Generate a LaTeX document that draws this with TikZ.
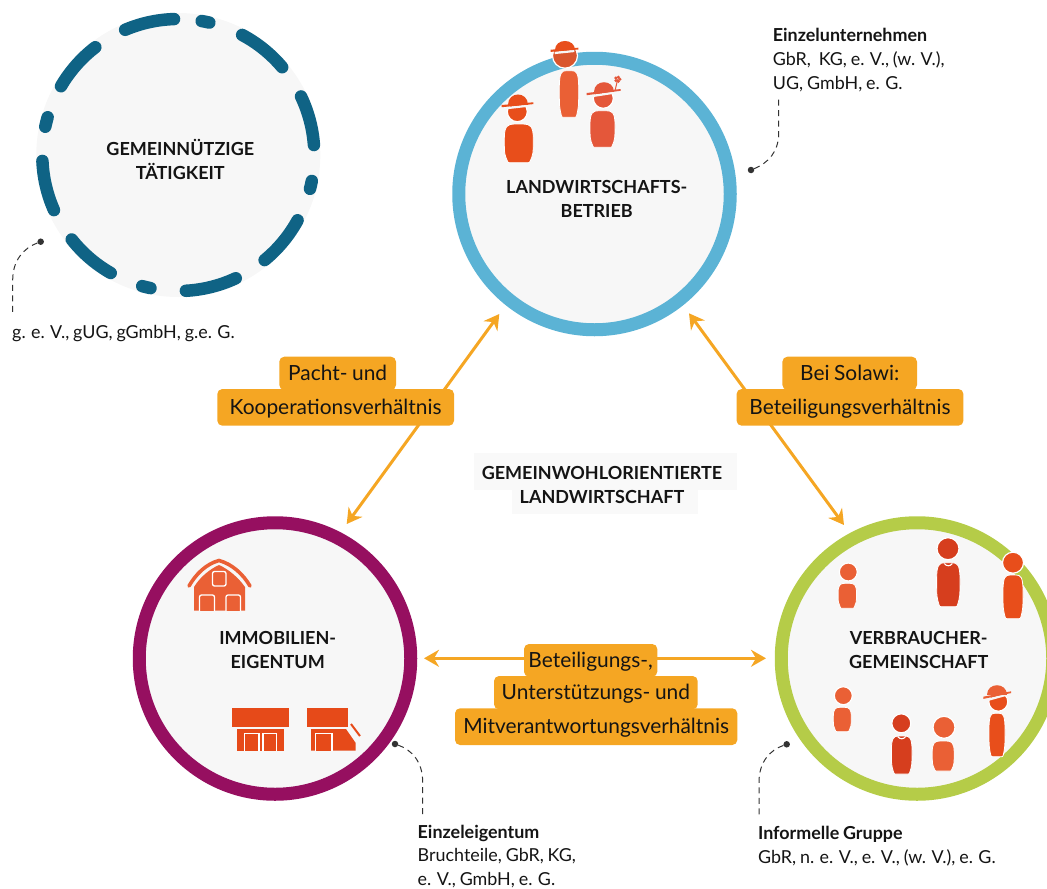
\documentclass[tikz,border=0pt]{standalone}
\usepackage{fontspec}
\setmainfont[WordSpace=0.85]{Lato}
\usetikzlibrary{arrows.meta}
\definecolor{orangeb}{HTML}{F5A623}
\definecolor{blue1}{HTML}{5BB3D5}
\definecolor{teal1}{HTML}{0F6385}
\definecolor{purple1}{HTML}{960F60}
\definecolor{green1}{HTML}{B5CC48}
\definecolor{disc}{HTML}{F7F7F7}
\definecolor{ink}{HTML}{141414}
\definecolor{dotc}{HTML}{333333}
\definecolor{oa}{HTML}{EA6035}
\definecolor{ob}{HTML}{D63E1E}
\definecolor{oc}{HTML}{E84E1B}
\definecolor{od}{HTML}{E4573A}
\definecolor{oe}{HTML}{D9562E}
\definecolor{of}{HTML}{E64A19}
\tikzset{
  ring/.style={circle,draw=#1,fill=disc,line width=13pt,minimum size=271.5pt,inner sep=0pt},
  gdisc/.style={circle,fill=disc,minimum size=284pt,inner sep=0pt},
  gbar/.style={draw=teal1,line width=12.5pt,line cap=round},
  title/.style={font=\fontsize{18}{24}\selectfont\bfseries,align=center,text=ink,inner sep=0pt},
  lab/.style={fill=orangeb,rounded corners=5pt,inner sep=0pt,text=ink,font=\fontsize{20.9}{24}\selectfont,text height=19pt,text depth=4.5pt},
  link/.style={draw=orangeb,line width=3pt,{Stealth[length=15pt,width=17pt,inset=5pt]}-{Stealth[length=15pt,width=17pt,inset=5pt]}},
  note/.style={font=\fontsize{17.9}{24}\selectfont,align=left,text=ink,inner sep=0pt,anchor=north west},
  dotn/.style={circle,fill=dotc,minimum size=6.5pt,inner sep=0pt},
  callout/.style={draw=dotc,line width=1pt,dash pattern=on 6pt off 4.5pt},
  bg/.style={fill=white!97.5!black,inner sep=0pt}
}
% person: cx, top, bot, half width, colour
\newcommand\persbody[5]{%
  \pgfmathsetmacro\hh{#3-#2}%
  \pgfmathsetmacro\xa{#1-#4}\pgfmathsetmacro\xb{#1+#4}%
  \pgfmathsetmacro\xc{#1-.78*#4}\pgfmathsetmacro\xd{#1+.78*#4}%
  \pgfmathsetmacro\xe{#1-.3*#4}\pgfmathsetmacro\xf{#1+.3*#4}%
  \pgfmathsetmacro\ya{#2+.38*\hh}\pgfmathsetmacro\yb{#3-.22*\hh}%
  \path[fill=#5,draw=white,line width=.8pt,line join=round]
    (\xc,#3-1.5) .. controls (\xa+.1,\yb) and (\xa,\yb) .. (\xa,\ya)
    .. controls (\xa,#2+2) and (\xc,#2) .. (\xe,#2)
    -- (\xf,#2) .. controls (\xd,#2) and (\xb,#2+2) .. (\xb,\ya)
    .. controls (\xb,\yb) and (\xb-.1,\yb) .. (\xd,#3-1.5)
    .. controls (\xd-.3,#3) and (\xd-1,#3) .. (\xd-2,#3)
    -- (\xc+2,#3) .. controls (\xc+1,#3) and (\xc+.3,#3) .. (\xc,#3-1.5) -- cycle;}
\newcommand\perhead[4]{\path[fill=#4,draw=white,line width=1.2pt] (#1,#2) circle[radius=#3];}
% hat: left x, left y, right x, right y, top y, colour
\newcommand\perhat[6]{%
  \pgfmathsetmacro\mx{(#1+#3)/2}\pgfmathsetmacro\my{(#2+#4)/2}%
  \path[draw=disc,line width=2.4pt] (#1+4,#2+2.2) -- (#3-4,#4+2.2);
  \path[fill=#6] (\mx-10,\my) .. controls (\mx-10,#5-3) and (\mx+10,#5-3) .. (\mx+10,\my) -- cycle;
  \path[fill=#6] (#1,#2-1) -- (#3,#4-1) -- (#3,#4+.8) -- (#1,#2+1.2) -- cycle;}
\newcommand\percollar[2]{\path[draw=white,line width=1.1pt] (#1-4,#2) .. controls (#1-2,#2+3) and (#1+2,#2+3) .. (#1+4,#2);}
\begin{document}
\begin{tikzpicture}[x=1pt,y=-1pt]
\useasboundingbox (0,0) rectangle (1047,889);
\clip (0,0) rectangle (1047,889);
% circles
\node[gdisc] (G) at (178.3,155) {};
\foreach \a/\b in {113/91.8,80.1/76.8,62/40.2,25.5/4.2,-11/-14.4,-28.7/-50.6,-65/-86.8,-101.8/-105.4,-119.8/-141.6,-156.1/-177.5,168/163.9,149.6/127.6}
  \draw[gbar] ([shift={(\a:136pt)}]G.center) arc[start angle=\a,end angle=\b,radius=136pt];
\node[ring=blue1] (L) at (594.5,194) {};
\node[ring=purple1] (I) at (275,658.5) {};
\node[ring=green1] (V) at (917,658.5) {};
% titles
\node[title] (tG) at (180.3,159) {GEMEINNÜTZIGE\\TÄTIGKEIT};
\node[title] (tL) at (596.7,199) {LANDWIRTSCHAFTS-\\BETRIEB};
\node[title] (tI) at (277.7,649.5) {IMMOBILIEN-\\EIGENTUM};
\node[title] (tV) at (918.7,649.5) {VERBRAUCHER-\\GEMEINSCHAFT};
% centre title
\node[bg,minimum width=263pt,minimum height=37pt] (b1) at (605.5,471.5) {};
\node[bg,minimum width=186pt,minimum height=24pt] (b2) at (605,501.5) {};
\node[title] (tC) at (602,484.5) {GEMEINWOHLORIENTIERTE\\LANDWIRTSCHAFT};
% arrow ends
\coordinate (a1) at (499.3,314);
\coordinate (a2) at (346.7,524);
\coordinate (a3) at (689,313.3);
\coordinate (a4) at (844,525);
\coordinate (a5) at (424,658.3);
\coordinate (a6) at (766,658.3);
\draw[link] (a1) -- (a2);
\draw[link] (a3) -- (a4);
\draw[link] (a5) -- (a6);
% labels
\node[lab,minimum width=236.7pt,minimum height=36.7pt] (k1b) at (335.65,407.35) {Kooperationsverhältnis};
\node[lab,minimum width=116.7pt,minimum height=33.3pt] (k1a) at (337.65,373.35) {Pacht- und};
\node[lab,minimum width=226.8pt,minimum height=36.7pt] (k2b) at (850,407.35) {Beteiligungsverhältnis};
\node[lab,minimum width=134.6pt,minimum height=33.3pt] (k2a) at (849.7,373.35) {Bei Solawi:};
\node[lab,minimum width=282.3pt,minimum height=36.7pt] (k3c) at (596.15,726.65) {Mitverantwortungsverhältnis};
\node[lab,minimum width=203.7pt,minimum height=33.3pt] (k3b) at (595.85,692.65) {Unterstützungs- und};
\node[lab,minimum width=133.3pt,minimum height=32.7pt] (k3a) at (590.65,660.35) {Beteiligungs-,};
% notes
\node[note] (nL) at (772.7,28) {\textbf{Einzelunternehmen}\\GbR,\ \ KG, e. V., (w. V.),\\UG, GmbH, e. G.};
\node[note] (nG) at (12,325) {g. e. V., gUG, gGmbH, g.e. G.};
\node[note,font=\fontsize{17.9}{23.5}\selectfont] (nI) at (417.5,824.5) {\textbf{Einzeleigentum}\\Bruchteile, GbR, KG,\\e. V., GmbH, e. G.};
\node[note] (nV) at (757.9,826) {\textbf{Informelle Gruppe}\\GbR, n. e. V., e. V., (w. V.), e. G.};
% callouts
\node[dotn] (dL) at (751,170) {};
\node[dotn] (dG) at (40.7,241.7) {};
\node[dotn] (dI) at (395,744) {};
\node[dotn] (dV) at (786.7,744.3) {};
\coordinate (eL) at (778.7,97.7);
\coordinate (eG) at (12.7,313.3);
\coordinate (eI) at (422.7,816.7);
\coordinate (eV) at (759,816.7);
\draw[callout] (dL) .. controls (768,163) and (778.7,152) .. (778.7,133) -- (eL);
\draw[callout] (dG) .. controls (24,248) and (12.7,260) .. (12.7,280) -- (eG);
\draw[callout] (dI) .. controls (412,750) and (422.7,762) .. (422.7,782) -- (eI);
\draw[callout] (dV) .. controls (770,750) and (759,762) .. (759,782) -- (eV);
% people: farm
\perhead{517.3}{111.7}{10}{oc}
\perhat{501.7}{106}{533.3}{103.3}{94}{oc}
\persbody{518.8}{124}{162.7}{14.5}{oc}
\perhead{565}{55.7}{12.5}{oe}
\perhat{550.7}{50.7}{578.3}{48.7}{40.7}{oc}
\persbody{569}{70.7}{117.3}{9.7}{oa}
\perhead{603.3}{98.3}{10}{od}
\perhat{586.7}{94}{620.7}{90}{82.3}{od}
\persbody{602.5}{110.7}{147.3}{12.5}{od}
\path[draw=od,line width=1pt] (617.7,79.3) -- (615,90.7);
\foreach \t in {0,72,144,216,288}
  \path[fill=od] ([shift={(\t:2.2pt)}]617.7,79.3) circle[radius=1.7pt];
% people: community
\perhead{848.3}{572}{9}{oa}
\persbody{847.3}{583.3}{608.3}{9.2}{oa}
\perhead{948}{548.7}{11}{ob}
\persbody{948.3}{562.7}{606.7}{11.7}{ob}
\percollar{948.3}{563.5}
\perhead{1013}{562.7}{10.5}{oc}
\persbody{1013}{575}{618.7}{10}{oc}
\perhead{843.3}{695.7}{9}{oa}
\persbody{842.3}{707.3}{731.7}{9}{oa}
\perhead{901.3}{723.3}{9.5}{ob}
\persbody{901.7}{736}{774}{10.3}{ob}
\percollar{901.7}{736.5}
\perhead{944}{727.3}{11}{oa}
\persbody{943.2}{741}{771}{11}{oa}
\perhead{998.3}{701.7}{9.5}{oc}
\perhat{983.3}{697.7}{1011}{692.3}{685}{oa}
\persbody{997}{713.3}{756.7}{8}{oc}
% barn
\path[fill=oa] (194,610.5) -- (194,587) .. controls (200,577) and (210,569) .. (219,565) .. controls (228,569) and (238,577) .. (245,587) -- (245,610.5) -- cycle;
\path[draw=oa,line width=3.6pt,line cap=round] (189,586) .. controls (196,574) and (206,564) .. (219,560.5) .. controls (232,564) and (243,574) .. (250,586);
\path[fill=oa,draw=white,line width=1.3pt,rounded corners=2pt] (212.5,571.5) rectangle (226,586);
\path[fill=oa,draw=white,line width=1.3pt,rounded corners=2pt] (199.5,595) rectangle (214.5,613);
\path[fill=oa,draw=white,line width=1.3pt,rounded corners=2pt] (226,595) rectangle (240.5,613);
\path[draw=disc,line width=2pt] (190,611.5) -- (250,611.5);
% shops
\path[fill=of] (231.7,708.3) rectangle (289.3,726.7);
\path[fill=of] (236.7,729) rectangle (284.3,750.7);
\path[fill=of,draw=white,line width=1.3pt] (244.5,753) -- (244.5,733.5) -- (259,733.5) -- (259,753);
\path[fill=of,draw=white,line width=1.3pt] (263,753) -- (263,733.5) -- (276.5,733.5) -- (276.5,753);
\path[fill=of] (307.3,708.3) rectangle (348.3,726.7);
\path[fill=of] (311,729) -- (346,729) -- (355.7,743) -- (355.7,750.7) -- (311,750.7) -- cycle;
\path[fill=of,draw=white,line width=1.3pt] (315.5,753) -- (315.5,733.5) -- (332,733.5) -- (332,753);
\path[draw=disc,line width=2pt] (234,751.7) -- (358,751.7);
\path[draw=of,line width=2pt] (351,724) -- (360,736);
\end{tikzpicture}
\end{document}
